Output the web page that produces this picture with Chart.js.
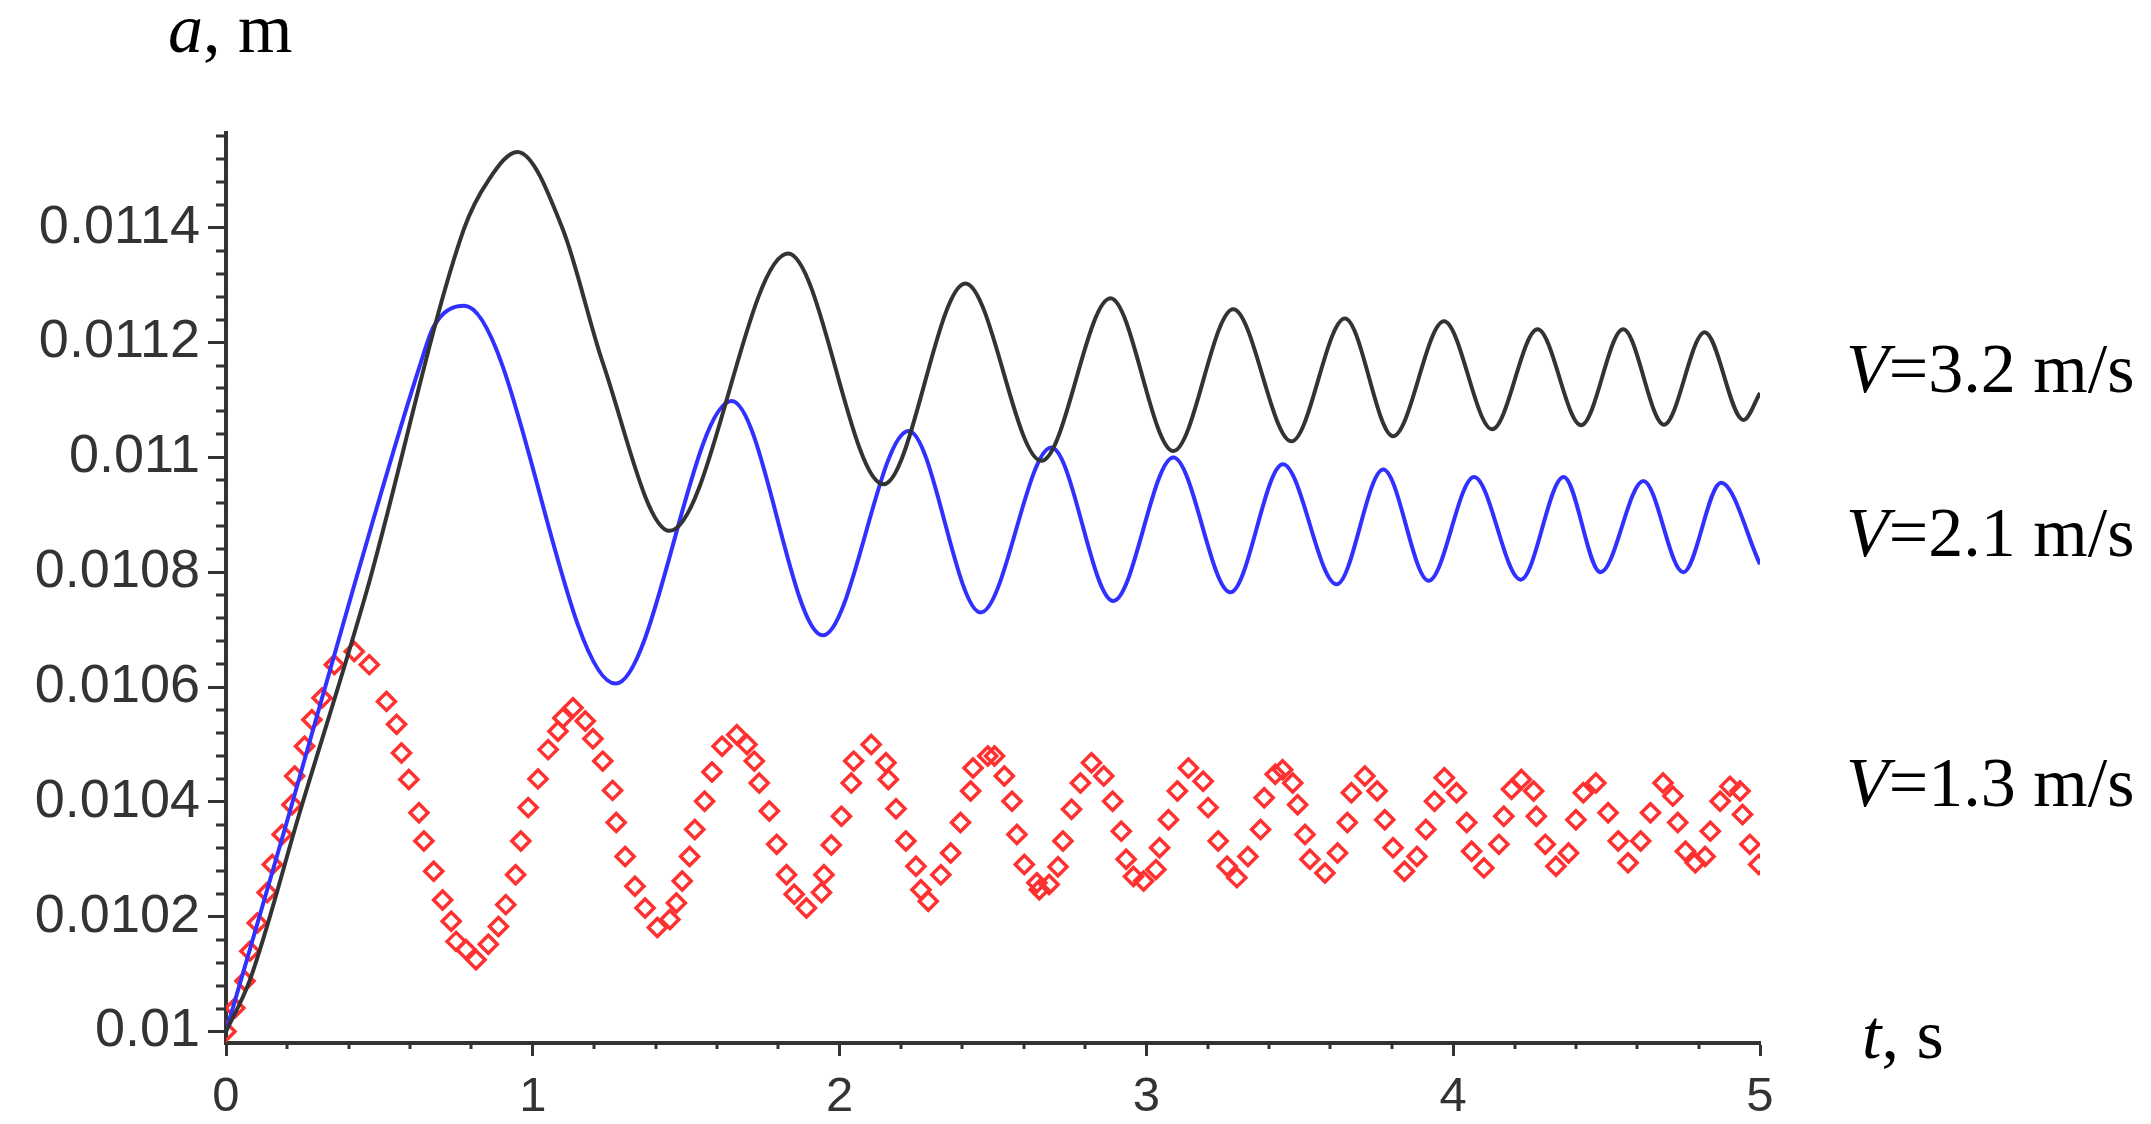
<!DOCTYPE html>
<html>
<head>
<meta charset="utf-8">
<script src="https://cdn.jsdelivr.net/npm/chart.js@4.4.1/dist/chart.umd.min.js"></script>
<style>
  html, body { margin: 0; padding: 0; background: #fff; }
  #wrap { width: 2151px; height: 1124px; }
</style>
</head>
<body>
<div id="wrap"><canvas id="chart" width="2151" height="1124"></canvas></div>
<script>
// V = 3.2 m/s (black)
const blackT = [0, 0.078, 0.24, 0.46, 0.775, 0.857, 0.95, 1.098, 1.228, 1.446, 1.832, 2.143, 2.41, 2.658, 2.883, 3.088, 3.283, 3.473, 3.647, 3.804, 3.97, 4.127, 4.275, 4.417, 4.554, 4.687, 4.82, 4.946, 5.0];
const blackA = [0.01, 0.01009, 0.010381, 0.01077, 0.011397, 0.011484, 0.011532, 0.011397, 0.011165, 0.010872, 0.011355, 0.010953, 0.011303, 0.010994, 0.011277, 0.011011, 0.011258, 0.011028, 0.011242, 0.011037, 0.011237, 0.011049, 0.011223, 0.011056, 0.011223, 0.011057, 0.011218, 0.011065, 0.011112];

// V = 2.1 m/s (blue)
const blueT = [0, 0.207, 0.414, 0.635, 0.677, 0.777, 1.27, 1.648, 1.945, 2.225, 2.46, 2.69, 2.892, 3.088, 3.274, 3.445, 3.62, 3.772, 3.92, 4.068, 4.22, 4.36, 4.48, 4.62, 4.75, 4.873, 5.0];
const blueA = [0.01, 0.010381, 0.01077, 0.011165, 0.011228, 0.011264, 0.010606, 0.011098, 0.01069, 0.011046, 0.01073, 0.011017, 0.01075, 0.011, 0.010765, 0.010988, 0.010779, 0.010979, 0.010785, 0.010966, 0.010787, 0.010966, 0.0108, 0.010959, 0.0108, 0.010956, 0.010814];

// V = 1.3 m/s (red diamonds)
const redT = [0, 0.029, 0.062, 0.078, 0.102, 0.134, 0.151, 0.183, 0.215, 0.224, 0.256, 0.28, 0.313, 0.353, 0.418, 0.467,
  0.523, 0.556, 0.572, 0.596, 0.629, 0.645, 0.677, 0.706, 0.734, 0.75, 0.782, 0.815, 0.855, 0.888, 0.912, 0.944, 0.961, 0.985,
  1.017, 1.05, 1.082, 1.098, 1.131, 1.171, 1.196, 1.228, 1.26, 1.272, 1.301, 1.333, 1.366, 1.406, 1.447, 1.468, 1.487, 1.511,
  1.528, 1.56, 1.584, 1.617, 1.665, 1.698, 1.722, 1.738, 1.771, 1.795, 1.827, 1.852, 1.892, 1.941, 1.949, 1.973, 2.006, 2.038,
  2.046, 2.103, 2.151, 2.159, 2.184, 2.216, 2.249, 2.265, 2.289, 2.33, 2.362, 2.394, 2.427, 2.435, 2.483, 2.505, 2.537, 2.562,
  2.578, 2.602, 2.643, 2.651, 2.683, 2.712, 2.728, 2.756, 2.785, 2.821, 2.861, 2.89, 2.918, 2.934, 2.958, 2.991, 3.031, 3.043,
  3.072, 3.101, 3.137, 3.185, 3.201, 3.234, 3.263, 3.295, 3.331, 3.372, 3.384, 3.42, 3.444, 3.477, 3.493, 3.517, 3.533, 3.582,
  3.623, 3.655, 3.668, 3.712, 3.752, 3.777, 3.804, 3.841, 3.882, 3.911, 3.939, 3.971, 4.011, 4.044, 4.06, 4.1, 4.149, 4.165,
  4.19, 4.222, 4.262, 4.271, 4.3, 4.335, 4.376, 4.4, 4.424, 4.465, 4.505, 4.538, 4.57, 4.611, 4.643, 4.684, 4.716, 4.732,
  4.757, 4.789, 4.821, 4.838, 4.87, 4.902, 4.935, 4.943, 4.967, 4.996];
const redA = [0.01, 0.010041, 0.010088, 0.01014, 0.010189, 0.010242, 0.010291, 0.010343, 0.010395, 0.010445, 0.010497, 0.010543, 0.010581, 0.010639, 0.010662, 0.010639,
  0.010575, 0.010535, 0.010485, 0.010439, 0.010381, 0.010332, 0.010279, 0.010229, 0.010192, 0.010157, 0.010143, 0.010125, 0.010152, 0.010183, 0.010221, 0.010273, 0.010332, 0.01039,
  0.01044, 0.010491, 0.010523, 0.010546, 0.010564, 0.010541, 0.01051, 0.010471, 0.01042, 0.010364, 0.010305, 0.010253, 0.010215, 0.010181, 0.010195, 0.010224, 0.010262, 0.010305,
  0.010352, 0.010401, 0.010452, 0.010497, 0.010517, 0.0105, 0.010471, 0.010433, 0.010384, 0.010326, 0.010273, 0.010239, 0.010215, 0.010242, 0.010273, 0.010325, 0.010375, 0.010433,
  0.010471, 0.0105, 0.010468, 0.010439, 0.010388, 0.010332, 0.010288, 0.010247, 0.010227, 0.010273, 0.010311, 0.010364, 0.010419, 0.010459, 0.01048, 0.01048, 0.010445, 0.010401,
  0.010343, 0.010291, 0.010259, 0.010247, 0.010256, 0.010287, 0.010332, 0.010387, 0.010433, 0.010468, 0.010445, 0.010401, 0.010349, 0.0103, 0.01027, 0.010262, 0.010282, 0.01032,
  0.010369, 0.010419, 0.010459, 0.010436, 0.01039, 0.010332, 0.010288, 0.010268, 0.010305, 0.010352, 0.010407, 0.010448, 0.010456, 0.010433, 0.010395, 0.010343, 0.0103, 0.010276,
  0.010311, 0.010364, 0.010416, 0.010445, 0.010419, 0.010369, 0.01032, 0.010279, 0.010305, 0.010352, 0.010401, 0.010442, 0.010416, 0.010364, 0.010314, 0.010285, 0.010326, 0.010375,
  0.010422, 0.010439, 0.010419, 0.010375, 0.010326, 0.010288, 0.010311, 0.010369, 0.010416, 0.010433, 0.010381, 0.010332, 0.010294, 0.010332, 0.010381, 0.010433, 0.01041, 0.010364,
  0.010314, 0.010294, 0.010305, 0.010349, 0.010401, 0.010427, 0.010419, 0.010378, 0.010326, 0.010291];

// axis ticks
const xTicks = [0, 1, 2, 3, 4, 5];
const yTicks = [0.01, 0.0102, 0.0104, 0.0106, 0.0108, 0.011, 0.0112, 0.0114];
const yTickLabels = ["0.01", "0.0102", "0.0104", "0.0106", "0.0108", "0.011", "0.0112", "0.0114"];

function pts(ts, as) {
  return ts.map((t, i) => ({ x: t, y: as[i] }));
}

// small ticks between the labelled ones
const minorTicks = {
  id: 'minorTicks',
  afterDraw(chart) {
    const ctx = chart.ctx;
    const x = chart.scales.x, y = chart.scales.y;
    ctx.save();
    ctx.strokeStyle = '#333';
    ctx.lineWidth = 3;
    ctx.beginPath();
    for (let i = 1; i < 25; i++) {
      if (i % 5 === 0) continue;
      const px = Math.round(x.getPixelForValue(i * 0.2));
      ctx.moveTo(px, x.top);
      ctx.lineTo(px, x.top + 6);
    }
    for (let i = 1; i <= 39; i++) {
      if (i % 5 === 0) continue;
      const py = Math.round(y.getPixelForValue(0.01 + i * 0.00004));
      ctx.moveTo(y.right, py);
      ctx.lineTo(y.right - 10, py);
    }
    ctx.stroke();
    ctx.restore();
  }
};

// axis names and curve labels, italic variable + upright rest
function label(ctx, x, y, ital, rest, size) {
  ctx.font = 'italic ' + size + 'px "Liberation Serif"';
  ctx.fillText(ital, x, y);
  const w = ctx.measureText(ital).width;
  ctx.font = size + 'px "Liberation Serif"';
  ctx.fillText(rest, x + w, y);
}

const texts = {
  id: 'texts',
  afterDraw(chart) {
    const ctx = chart.ctx;
    ctx.save();
    ctx.fillStyle = '#000';
    ctx.textBaseline = 'alphabetic';
    label(ctx, 168, 52, 'a', ', m', 70);
    label(ctx, 1846, 392, 'V', '=3.2 m/s', 70);
    label(ctx, 1846, 556, 'V', '=2.1 m/s', 70);
    label(ctx, 1846, 806, 'V', '=1.3 m/s', 70);
    label(ctx, 1862, 1058, 't', ', s', 70);
    ctx.restore();
  }
};

new Chart(document.getElementById('chart'), {
  type: 'scatter',
  data: {
    datasets: [
      {
        label: 'V=3.2 m/s',
        data: pts(blackT, blackA),
        showLine: true,
        borderColor: '#333333',
        borderWidth: 4,
        pointRadius: 0,
        cubicInterpolationMode: 'monotone'
      },
      {
        label: 'V=2.1 m/s',
        data: pts(blueT, blueA),
        showLine: true,
        borderColor: '#3030ff',
        borderWidth: 4,
        pointRadius: 0,
        cubicInterpolationMode: 'monotone'
      },
      {
        label: 'V=1.3 m/s',
        data: pts(redT, redA),
        showLine: false,
        pointStyle: 'rectRot',
        pointRadius: 9,
        borderWidth: 3.5,
        borderColor: '#ff3030',
        backgroundColor: 'rgba(255,255,255,0)'
      }
    ]
  },
  options: {
    responsive: false,
    devicePixelRatio: 1,
    animation: false,
    events: [],
    layout: { padding: { left: 0, top: 133, right: 391, bottom: 0 } },
    plugins: { legend: { display: false }, tooltip: { enabled: false } },
    scales: {
      x: {
        type: 'linear',
        min: 0,
        max: 5,
        afterBuildTicks: s => { s.ticks = xTicks.map(v => ({ value: v })); },
        afterFit: s => { s.height = 81; },
        ticks: {
          color: '#333',
          padding: 12,
          font: { family: '"Liberation Sans"', size: 49 },
          callback: v => String(v)
        },
        grid: { drawOnChartArea: false, drawTicks: true, tickLength: 13, tickWidth: 3, tickColor: '#333' },
        border: { display: true, color: '#333', width: 4 }
      },
      y: {
        type: 'linear',
        min: 0.00998,
        max: 0.011565,
        afterBuildTicks: s => { s.ticks = yTicks.map(v => ({ value: v })); },
        afterFit: s => { s.width = 226; },
        ticks: {
          color: '#333',
          padding: 8,
          font: { family: '"Liberation Sans"', size: 54 },
          callback: (v, i) => yTickLabels[i]
        },
        grid: { drawOnChartArea: false, drawTicks: true, tickLength: 18, tickWidth: 3, tickColor: '#333' },
        border: { display: true, color: '#333', width: 4 }
      }
    }
  },
  plugins: [minorTicks, texts]
});
</script>
</body>
</html>
